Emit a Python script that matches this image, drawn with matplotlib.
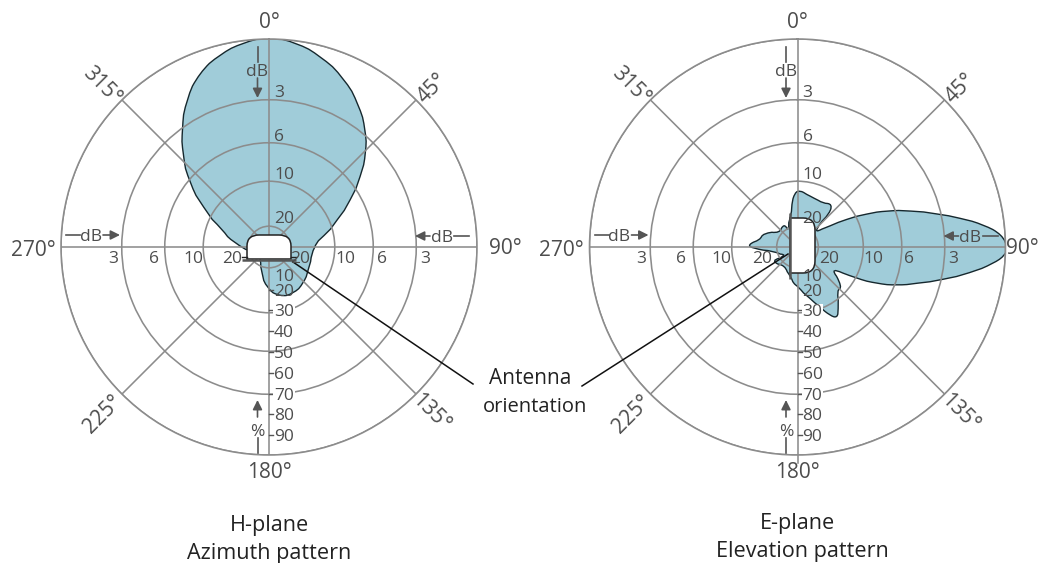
import numpy as np
import matplotlib
matplotlib.use('Agg')
import matplotlib.pyplot as plt
from matplotlib.path import Path
from matplotlib.patches import PathPatch

plt.rcParams['font.family'] = ['Open Sans', 'DejaVu Sans']

# pattern outlines: clockwise angle (deg), relative field
h_angle = [0, 7.7, 15, 23.8, 32.2, 39.4, 45.8, 52.3, 59.9, 68.3, 79.2, 83.7, 98.4, 120.5,
           136.6, 152.4, 167.3, 182.8, 195, 211.6, 250, 278, 290.3, 301.5, 309, 317.4,
           323.5, 330.8, 338.3, 345.7, 352.8]
h_field = [1.01, .99, .95, .888, .808, .73, .65, .555, .452, .352, .264, .231, .206, .218,
           .24, .252, .244, .197, .129, .073, .05, .175, .236, .371, .489, .612,
           .702, .812, .901, .955, .99]

e_angle = [2.6, 10, 18, 30.3, 39.2, 43.9, 43.2, 50.4, 57.1, 60.6, 64.5, 68, 72.3, 76.7, 80, 83.2,
           86.6, 90.2, 92.2, 94.8, 98.5, 102.5, 106.9, 111, 114.6, 117.9, 121.9, 131.9,
           137.6, 147.1, 150.7, 154.5, 159.4, 166.3, 178.8, 187, 190.6, 214.8, 243.3,
           233.5, 261.3, 268.3, 272.4, 280.6, 291.8, 308, 330.4, 330.5, 350.3, 352.1, 357.2]
e_field = [.272, .256, .248, .243, .266, .214, .158, .105, .186, .271, .369, .464, .570, .690, .795, .901,
           .985, 1.01, 1.0, .945, .838, .718, .599, .513, .421, .322, .180, .290,
           .280, .361, .39, .365, .307, .254, .191, .174, .152, .105, .145,
           .06, .118, .213, .24, .183, .177, .107, .13, .083, .166, .204, .262]

ring_db = [3, 6, 10, 20]
spoke_angles = [0, 45, 90, 135, 180, 225, 270, 315]
percent = [20, 30, 40, 50, 60, 70, 80, 90]
titles_left = ['H-plane', 'Azimuth pattern']
titles_right = ['E-plane', 'Elevation pattern']

FILL = '#a0ccd9'
GRID = '#8c8c8c'
TEXT = '#4d4d4d'
W, H = 1040, 563

fig = plt.figure(figsize=(W / 100, H / 100), dpi=100)
over = fig.add_axes([0, 0, 1, 1], zorder=5)
over.set_xlim(0, W)
over.set_ylim(H, 0)
over.axis('off')


def txt(x, y, s, size=12.5, color=TEXT, rot=0, **kw):
    over.text(x, y + 2, s, fontsize=size, color=color, rotation=rot, ha=kw.pop('ha', 'center'),
              va='center', rotation_mode='anchor', **kw)


def arrow(x0, y0, x1, y1):
    over.annotate('', xy=(x1, y1), xytext=(x0, y0),
                  arrowprops=dict(arrowstyle='-|>', color='#555555', lw=1.2, mutation_scale=14,
                                  shrinkA=0, shrinkB=0))


def outline_path(angle, field):
    # read points act as control points of a closed quadratic curve
    th = np.radians(angle)
    r = np.array(field)
    th_next = np.roll(th, -1)
    th_next[-1] += 2 * np.pi
    mid = np.column_stack([(th + th_next) / 2, (r + np.roll(r, -1)) / 2])
    verts = [mid[-1] - [2 * np.pi, 0]]
    codes = [Path.MOVETO]
    for i in range(len(th)):
        verts += [(th[i], r[i]), mid[i]]
        codes += [Path.CURVE3, Path.CURVE3]
    return Path(verts, codes)


def draw_chart(cx, angle, field, left_off, right_off):
    ax = fig.add_axes([(cx - 208) / W, 1 - 455 / H, 416 / W, 416 / H], projection='polar')
    ax.set_theta_zero_location('N')
    ax.set_theta_direction(-1)
    ax.add_patch(PathPatch(outline_path(angle, field), facecolor=FILL, edgecolor='#16282e',
                           lw=1.0, zorder=1, transform=ax.transData))
    ax.set_rlim(0, 1)
    ax.set_rgrids([10 ** (-d / 20) for d in ring_db] + [1], labels=[])
    ax.set_thetagrids(spoke_angles, labels=[])
    ax.set_axisbelow(False)
    ax.grid(True, color=GRID, lw=1.15)
    ax.spines['polar'].set_color(GRID)
    ax.spines['polar'].set_linewidth(1.15)
    ax.patch.set_alpha(0)

    # degree labels round the outside
    txt(cx, 21, '0°', 15)
    txt(cx, 471, '180°', 15)
    txt(cx - 236, 248, '270°', 15)
    txt(cx + (236 if cx < 500 else 224.5), 247, '90°', 15)
    txt(cx + 163, 86, '45°', 15, rot=45)
    txt(cx - 167, 84, '315°', 15, rot=-45)
    txt(cx + 162, 411, '135°', 15, rot=-45)
    txt(cx - 166, 412, '225°', 15, rot=45)

    # dB scale on the vertical
    for d, y in zip(ring_db, [91, 135, 173, 217]):
        txt(cx + 5, y, str(d), ha='left')
    # dB scale on the horizontal
    for d, off in zip(ring_db, left_off):
        txt(cx + off, 257, str(d))
    for d, off in zip(ring_db, right_off):
        txt(cx + off, 257, str(d))

    # percent scale going down
    txt(cx + 5, 275, '10', ha='left')
    for p in percent:
        y = 247 + 208 * p / 100 + 1
        box = dict(fc='white', ec='none', pad=0.5) if p in (30, 70) else None
        txt(cx + 5, y, str(p), ha='left', bbox=box)
        if p >= 30 or cx < 500:
            over.plot([cx, cx + 4], [y, y], color='#555555', lw=1.0)

    # arrows with their dB / % captions
    ax_x = cx - 11.5
    over.plot([ax_x, ax_x], [47, 62], color='#555555', lw=1.2)
    txt(ax_x, 70, 'dB')
    arrow(ax_x, 78, ax_x, 98)
    arrow(ax_x, 417, ax_x, 400)
    txt(ax_x, 430, '%')
    over.plot([ax_x, ax_x], [438, 453], color='#555555', lw=1.2)
    over.plot([cx - 203, cx - 189], [235, 235], color='#555555', lw=1.2)
    txt(cx - 178, 235, 'dB')
    arrow(cx - 166, 235, cx - 149, 235)
    arrow(cx + 161, 236, cx + 146, 236)
    txt(cx + 173, 236, 'dB')
    over.plot([cx + 185, cx + 200], [236, 236], color='#555555', lw=1.2)


def antenna(verts, bar):
    codes = [Path.MOVETO, Path.LINETO, Path.CURVE3, Path.CURVE3, Path.LINETO, Path.CURVE3, Path.CURVE3,
             Path.LINETO, Path.CLOSEPOLY]
    over.add_patch(PathPatch(Path(verts, codes), fc='white', ec='#222222', lw=1.1))
    over.plot(bar[0], bar[1], color='#555555', lw=1.8, solid_capstyle='butt')


draw_chart(269, h_angle, h_field, [-156, -115, -76, -37], [156, 113, 76, 31])
draw_chart(797.5, e_angle, e_field, [-156.5, -116.5, -76.5, -35.5], [155.5, 111.5, 75.5, 32])

# stub under the right chart
over.plot([797.5, 797.5], [455, 463], color=GRID, lw=1.15)

antenna([(247, 259), (247, 246), (247, 235), (259, 235), (279, 235), (291, 235), (291, 246),
         (291, 259), (247, 259)], ([242, 296], [259.5, 259.5]))
over.plot([242, 247], [257, 257], color='#222222', lw=1.0)
over.plot([291, 296], [257, 257], color='#222222', lw=1.0)
antenna([(790, 218), (803, 218), (815, 218), (815, 230), (815, 261), (815, 273), (803, 273),
         (790, 273), (790, 218)], ([790, 790], [213, 279]))

# leader lines to the antenna caption
over.plot([293, 473], [262, 384], color='#111111', lw=1.1)
over.plot([788, 582], [254, 386], color='#111111', lw=1.1)
txt(530, 377, 'Antenna', 15, color='#222222')
txt(535, 405, 'orientation', 14.5, color='#222222')

txt(270, 523, titles_left[0], 15.6, color='#222222')
txt(269, 551, titles_left[1], 15.6, color='#222222')
txt(798, 521, titles_right[0], 15.6, color='#222222')
txt(802, 550, titles_right[1], 15.6, color='#222222')

fig.savefig('out.png', dpi=100)
